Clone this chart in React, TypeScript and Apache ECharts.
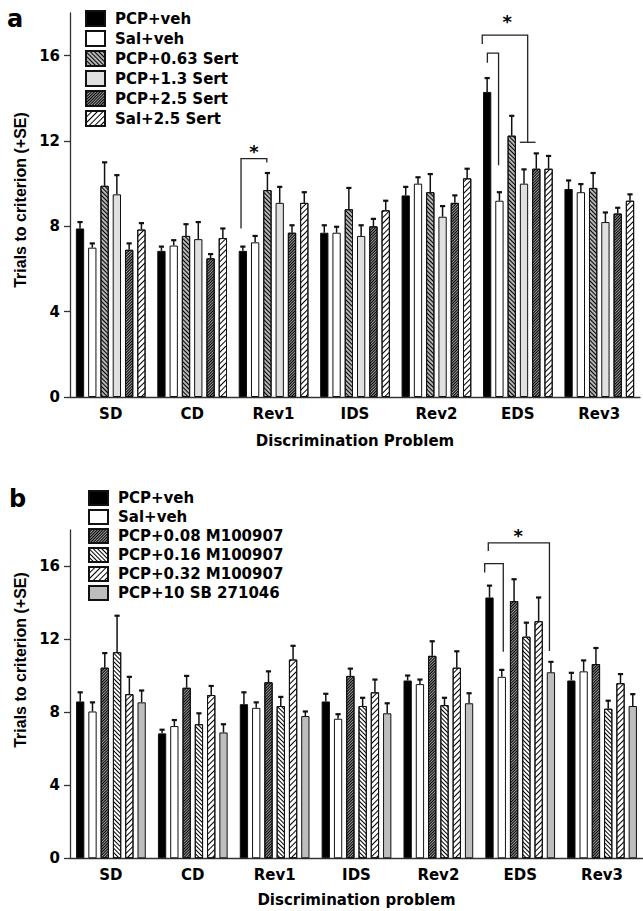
import React, { useEffect, useRef } from 'react';
import * as echarts from 'echarts';

// ---------- data ----------
const categories = ['SD', 'CD', 'Rev1', 'IDS', 'Rev2', 'EDS', 'Rev3'];
const yTickValues = [0, 4, 8, 12, 16];
const yMax = 18;

const namesA = ['PCP+veh', 'Sal+veh', 'PCP+0.63 Sert', 'PCP+1.3 Sert', 'PCP+2.5 Sert', 'Sal+2.5 Sert'];
const pcpVehA = [7.9, 6.85, 6.85, 7.7, 9.45, 14.3, 9.75];
const pcpVehAErr = [0.3, 0.2, 0.2, 0.35, 0.4, 0.65, 0.4];
const salVehA = [7.0, 7.1, 7.25, 7.7, 10.0, 9.2, 9.6];
const salVehAErr = [0.2, 0.25, 0.3, 0.28, 0.3, 0.4, 0.38];
const pcpSert063 = [9.9, 7.55, 9.7, 8.8, 9.6, 12.25, 9.8];
const pcpSert063Err = [1.1, 0.55, 0.8, 1.0, 0.85, 0.93, 0.7];
const pcpSert13 = [9.5, 7.4, 9.1, 7.55, 8.45, 10.0, 8.2];
const pcpSert13Err = [0.9, 0.8, 0.75, 0.5, 0.5, 0.67, 0.45];
const pcpSert25 = [6.9, 6.5, 7.7, 8.0, 9.1, 10.7, 8.6];
const pcpSert25Err = [0.3, 0.2, 0.35, 0.35, 0.35, 0.72, 0.27];
const salSert25 = [7.85, 7.45, 9.1, 8.75, 10.25, 10.7, 9.2];
const salSert25Err = [0.3, 0.45, 0.5, 0.45, 0.45, 0.6, 0.3];

const namesB = ['PCP+veh', 'Sal+veh', 'PCP+0.08 M100907', 'PCP+0.16 M100907', 'PCP+0.32 M100907', 'PCP+10 SB 271046'];
const pcpVehB = [8.6, 6.85, 8.45, 8.6, 9.75, 14.3, 9.75];
const pcpVehBErr = [0.5, 0.2, 0.65, 0.42, 0.27, 0.65, 0.42];
const salVehB = [8.05, 7.25, 8.25, 7.65, 9.55, 9.95, 10.25];
const salVehBErr = [0.5, 0.33, 0.3, 0.25, 0.25, 0.38, 0.6];
const pcpM008 = [10.45, 9.35, 9.65, 10.0, 11.1, 14.1, 10.65];
const pcpM008Err = [0.8, 0.65, 0.6, 0.4, 0.8, 1.2, 0.88];
const pcpM016 = [11.3, 7.35, 8.35, 8.35, 8.4, 12.15, 8.2];
const pcpM016Err = [2.0, 0.6, 0.5, 0.45, 0.4, 0.77, 0.44];
const pcpM032 = [9.0, 8.95, 10.9, 9.1, 10.45, 13.0, 9.6];
const pcpM032Err = [0.95, 0.5, 0.75, 0.7, 0.9, 1.3, 0.5];
const pcpSB = [8.55, 6.9, 7.8, 7.95, 8.5, 10.2, 8.35];
const pcpSBErr = [0.65, 0.45, 0.25, 0.55, 0.55, 0.57, 0.65];

// significance brackets: [bar index within group, value]
const bracketsA = [
  { cat: 2, points: [[-0.15, 7.9], [-0.15, 11.17], [1.95, 11.17], [1.95, 10.99]] },
  { cat: 5, points: [[-0.4, 16.55], [-0.4, 16.96], [3.3, 16.96], [3.3, 11.94]] },
  { cat: 5, points: [[2.66, 11.94], [3.94, 11.94]] },
  { cat: 5, points: [[0.02, 15.67], [0.02, 16.12], [0.93, 16.12], [0.93, 10.86]] },
];
const starsA = [
  { cat: 2, bar: 0.91, value: 11.69 },
  { cat: 5, bar: 1.64, value: 17.78 },
];
const bracketsB = [
  { cat: 5, points: [[-0.1, 16.85], [-0.1, 17.29], [4.88, 17.29], [4.88, 11.36]] },
  { cat: 5, points: [[-0.39, 15.67], [-0.39, 16.16], [1.12, 16.16], [1.12, 11.32]] },
];
const starsB = [{ cat: 5, bar: 2.34, value: 17.93 }];

// ---------- styles ----------
const BAR_W = 8.3;
const BAR_GAP = 0.48;
const PITCH = BAR_W * (1 + BAR_GAP);
const FONT = '"DejaVu Sans", sans-serif';
const AXIS_COLOR = '#333';

const hatch = (gap: number, dir: number) => ({
  symbol: 'rect',
  symbolSize: 1,
  dashArrayX: [1, 0],
  dashArrayY: [1, gap],
  rotation: (dir * Math.PI) / 4,
  color: '#000',
});

const stylesA = [
  { color: '#000000' },
  { color: '#ffffff' },
  { color: '#b4b4b4', decal: hatch(2, 1) },
  { color: '#e0e0e0' },
  { color: '#9a9a9a', decal: hatch(1, -1) },
  { color: '#ffffff', decal: hatch(3, -1) },
];
const stylesB = [
  { color: '#000000' },
  { color: '#ffffff' },
  { color: '#9a9a9a', decal: hatch(1, -1) },
  { color: '#ffffff', decal: hatch(2, 1) },
  { color: '#ffffff', decal: hatch(3, -1) },
  { color: '#bdbdbd' },
];

const valuesA = [pcpVehA, salVehA, pcpSert063, pcpSert13, pcpSert25, salSert25];
const errsA = [pcpVehAErr, salVehAErr, pcpSert063Err, pcpSert13Err, pcpSert25Err, salSert25Err];
const valuesB = [pcpVehB, salVehB, pcpM008, pcpM016, pcpM032, pcpSB];
const errsB = [pcpVehBErr, salVehBErr, pcpM008Err, pcpM016Err, pcpM032Err, pcpSBErr];

function barSeries(names: string[], values: number[][], styles: any[], axis: number) {
  return names.map((name, i) => ({
    type: 'bar',
    name,
    xAxisIndex: axis,
    yAxisIndex: axis,
    data: values[i],
    barWidth: BAR_W,
    barGap: BAR_GAP * 100 + '%',
    itemStyle: { ...styles[i], borderColor: '#111', borderWidth: 1 },
    silent: true,
  }));
}

function errorSeries(values: number[][], errs: number[][], axis: number) {
  const data: number[][] = [];
  values.forEach((vals, si) => vals.forEach((v, ci) => data.push([ci, v, errs[si][ci], si])));
  return {
    type: 'custom',
    xAxisIndex: axis,
    yAxisIndex: axis,
    z: 5,
    silent: true,
    data,
    encode: { x: 0, y: 1 },
    renderItem: (_p: any, api: any) => {
      const ci = api.value(0);
      const v = api.value(1);
      const e = api.value(2);
      const si = api.value(3);
      const base = api.coord([ci, v]);
      const top = api.coord([ci, v + e]);
      const x = base[0] + (si - 2.5) * PITCH;
      return {
        type: 'group',
        children: [
          { type: 'line', shape: { x1: x, y1: base[1], x2: x, y2: top[1] }, style: { stroke: '#111', lineWidth: 1.5 } },
          { type: 'line', shape: { x1: x - 2.6, y1: top[1], x2: x + 2.6, y2: top[1] }, style: { stroke: '#111', lineWidth: 2.2 } },
        ],
      };
    },
  };
}

function bracketSeries(brackets: any[], stars: any[], axis: number) {
  const data = [
    ...brackets.map((b, i) => [b.cat, 0, i]),
    ...stars.map((s, i) => [s.cat, 1, i]),
  ];
  return {
    type: 'custom',
    xAxisIndex: axis,
    yAxisIndex: axis,
    z: 6,
    silent: true,
    data,
    renderItem: (_p: any, api: any) => {
      const cat = api.value(0);
      const kind = api.value(1);
      const idx = api.value(2);
      if (kind === 0) {
        const b = brackets[idx];
        const pts = b.points.map((p: number[]) => {
          const c = api.coord([cat, p[1]]);
          return [c[0] + (p[0] - 2.5) * PITCH, c[1]];
        });
        return { type: 'polyline', shape: { points: pts }, style: { stroke: '#222', lineWidth: 1.3, fill: null } };
      }
      const s = stars[idx];
      const c = api.coord([cat, s.value]);
      return {
        type: 'text',
        x: c[0] + (s.bar - 2.5) * PITCH,
        y: c[1] + 4,
        style: { text: '*', font: 'bold 18px ' + FONT, fill: '#000', align: 'center', verticalAlign: 'middle' },
      };
    },
  };
}

const axisLabelStyle = { fontSize: 15, fontWeight: 'bold', fontFamily: FONT, color: '#000' };

function xAxis(idx: number, name: string, gap: number) {
  return {
    type: 'category',
    gridIndex: idx,
    data: categories,
    axisLine: { lineStyle: { color: AXIS_COLOR, width: 1.3 } },
    axisTick: { alignWithLabel: true, interval: 0, length: 5, lineStyle: { color: AXIS_COLOR, width: 1.3 } },
    axisLabel: { ...axisLabelStyle, margin: 9, interval: 0 },
    name,
    nameLocation: 'middle',
    nameGap: gap,
    nameTextStyle: { ...axisLabelStyle },
  };
}

function yAxis(idx: number) {
  return {
    type: 'value',
    gridIndex: idx,
    min: 0,
    max: yMax,
    interval: 4,
    splitLine: { show: false },
    axisLine: { show: true, lineStyle: { color: AXIS_COLOR, width: 1.3 } },
    axisTick: { show: true, length: 6, customValues: yTickValues, lineStyle: { color: AXIS_COLOR, width: 1.3 } },
    axisLabel: { ...axisLabelStyle, margin: 10, customValues: yTickValues },
  };
}

function legend(names: string[], left: number, top: number, h: number, gap: number) {
  return {
    orient: 'vertical',
    left,
    top,
    padding: 0,
    icon: 'rect',
    itemWidth: 19,
    itemHeight: h,
    itemGap: gap,
    selectedMode: false,
    data: names,
    textStyle: { ...axisLabelStyle, lineHeight: h, padding: [0, 0, 0, 5] },
  };
}

export default function App() {
  const ref = useRef<HTMLDivElement>(null);
  useEffect(() => {
    if (!ref.current) return;
    const chart = echarts.init(ref.current, null, { renderer: 'svg' });
    chart.setOption({
      animation: false,
      backgroundColor: '#fff',
      grid: [
        { left: 70, top: 13, width: 570, height: 384 },
        { left: 70, top: 530, width: 577, height: 328.3 },
      ],
      xAxis: [xAxis(0, 'Discrimination Problem', 36), xAxis(1, 'Discrimination problem', 34)],
      yAxis: [yAxis(0), yAxis(1)],
      legend: [legend(namesA, 85, 10, 15, 3), legend(namesB, 88, 490, 14, 3)],
      graphic: [
        {
          type: 'text', x: 20, y: 200, rotation: Math.PI / 2,
          style: { text: 'Trials to criterion (+SE)', font: 'bold 16px "Liberation Sans", sans-serif', fill: '#000', align: 'center', verticalAlign: 'middle' },
        },
        {
          type: 'text', x: 20, y: 660, rotation: Math.PI / 2,
          style: { text: 'Trials to criterion (+SE)', font: 'bold 16px "Liberation Sans", sans-serif', fill: '#000', align: 'center', verticalAlign: 'middle' },
        },
        {
          type: 'text', x: 7, y: 19,
          style: { text: 'a', font: 'bold 24px ' + FONT, fill: '#000', align: 'left', verticalAlign: 'middle' },
        },
        {
          type: 'text', x: 9, y: 499,
          style: { text: 'b', font: 'bold 24px ' + FONT, fill: '#000', align: 'left', verticalAlign: 'middle' },
        },
      ],
      series: [
        ...barSeries(namesA, valuesA, stylesA, 0),
        errorSeries(valuesA, errsA, 0),
        bracketSeries(bracketsA, starsA, 0),
        ...barSeries(namesB, valuesB, stylesB, 1),
        errorSeries(valuesB, errsB, 1),
        bracketSeries(bracketsB, starsB, 1),
      ],
    });
    return () => chart.dispose();
  }, []);
  return <div ref={ref} style={{ position: 'absolute', left: 0, top: 0, width: 643, height: 911 }} />;
}
